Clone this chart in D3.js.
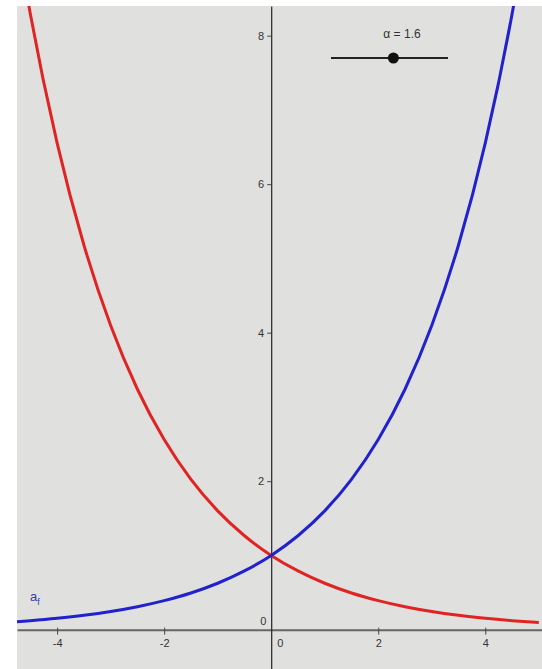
<!DOCTYPE html>
<html>
<head>
<meta charset="utf-8">
<script src="https://cdn.jsdelivr.net/npm/d3@7"></script>
<style>
  body { margin: 0; background: #fff; }
  .tick text { font-family: "Liberation Sans", Arial, sans-serif; font-size: 11px; fill: #333; }
</style>
</head>
<body>
<div id="chart"></div>
<script>
// values
var sliderName = "α";
var sliderValue = 1.6;
var sliderRange = [0, 3];

var xValues = [-5, -4.5, -4, -3.5, -3, -2.5, -2, -1.5, -1, -0.5, 0, 0.5, 1, 1.5, 2, 2.5, 3, 3.5, 4, 4.5, 5];
var blueValues = [0.095, 0.121, 0.153, 0.193, 0.244, 0.309, 0.391, 0.494, 0.625, 0.791, 1, 1.265, 1.6, 2.024, 2.56, 3.238, 4.096, 5.181, 6.554, 8.29, 10.486];
var redValues = [10.486, 8.29, 6.554, 5.181, 4.096, 3.238, 2.56, 2.024, 1.6, 1.265, 1, 0.791, 0.625, 0.494, 0.391, 0.309, 0.244, 0.193, 0.153, 0.121, 0.095];

var xTicks = [-4, -2, 2, 4];
var yTicks = [2, 4, 6, 8];

var svgWidth = 542;
var svgHeight = 669;

var plot = { left: 17, top: 6, right: 542, bottom: 669 };

var svg = d3.select("#chart")
  .append("svg")
  .attr("width", svgWidth)
  .attr("height", svgHeight);

svg.append("rect")
  .attr("x", plot.left)
  .attr("y", plot.top)
  .attr("width", plot.right - plot.left)
  .attr("height", plot.bottom - plot.top)
  .attr("fill", "#e0e1df");

svg.append("clipPath")
  .attr("id", "clip")
  .append("rect")
  .attr("x", plot.left)
  .attr("y", plot.top)
  .attr("width", plot.right - plot.left)
  .attr("height", plot.bottom - plot.top);

var x = d3.scaleLinear().domain([-4.75, 5.06]).range([plot.left, plot.right]);
var y = d3.scaleLinear().domain([-0.53, 8.40]).range([plot.bottom, plot.top]);

var g = svg.append("g").attr("clip-path", "url(#clip)");

// x axis
var xAxis = g.append("g")
  .attr("transform", `translate(0, ${y(0)})`)
  .call(d3.axisBottom(x).tickValues(xTicks).tickSizeInner(5).tickSizeOuter(0).tickPadding(5)
    .tickFormat(d => d < 0 ? "-" + Math.abs(d) : d));
xAxis.select(".domain").attr("stroke", "#666").attr("stroke-width", 2);
xAxis.selectAll(".tick line").attr("stroke", "#444").attr("y1", -2);

// y axis
var yAxis = g.append("g")
  .attr("transform", `translate(${x(0)}, 0)`)
  .call(d3.axisLeft(y).tickValues(yTicks).tickSizeInner(4).tickSizeOuter(0).tickPadding(3));
yAxis.select(".domain").attr("stroke", "#222").attr("stroke-width", 1.2);
yAxis.selectAll(".tick line").attr("stroke", "#444");

// the two zero labels
g.append("text")
  .attr("x", x(0) - 11)
  .attr("y", y(0) - 5)
  .attr("font-family", "Liberation Sans, Arial, sans-serif")
  .attr("font-size", 11)
  .attr("fill", "#333")
  .text("0");
g.append("text")
  .attr("x", x(0) + 6)
  .attr("y", y(0) + 17)
  .attr("font-family", "Liberation Sans, Arial, sans-serif")
  .attr("font-size", 11)
  .attr("fill", "#333")
  .text("0");

var line = d3.line()
  .x((d, i) => x(xValues[i]))
  .y(d => y(d))
  .curve(d3.curveMonotoneX);

g.append("path")
  .datum(redValues)
  .attr("d", line)
  .attr("fill", "none")
  .attr("stroke", "#e02424")
  .attr("stroke-width", 3);

g.append("path")
  .datum(blueValues)
  .attr("d", line)
  .attr("fill", "none")
  .attr("stroke", "#2222cc")
  .attr("stroke-width", 3);

// curve label
var lbl = g.append("text")
  .attr("x", 30)
  .attr("y", 601)
  .attr("font-family", "Liberation Sans, Arial, sans-serif")
  .attr("font-size", 13)
  .attr("fill", "#3a3aa8");
lbl.append("tspan").text("a");
lbl.append("tspan").attr("font-size", 9).attr("dy", 4).text("f");

// slider
var s = d3.scaleLinear().domain(sliderRange).range([331, 448]);
g.append("line")
  .attr("x1", s(sliderRange[0]))
  .attr("x2", s(sliderRange[1]))
  .attr("y1", 58)
  .attr("y2", 58)
  .attr("stroke", "#222")
  .attr("stroke-width", 2);
g.append("circle")
  .attr("cx", s(sliderValue))
  .attr("cy", 58)
  .attr("r", 5.5)
  .attr("fill", "#111");
g.append("text")
  .attr("x", 402)
  .attr("y", 38)
  .attr("text-anchor", "middle")
  .attr("font-family", "Liberation Sans, Arial, sans-serif")
  .attr("font-size", 12)
  .attr("fill", "#333")
  .text(`${sliderName} = ${sliderValue}`);
</script>
</body>
</html>
